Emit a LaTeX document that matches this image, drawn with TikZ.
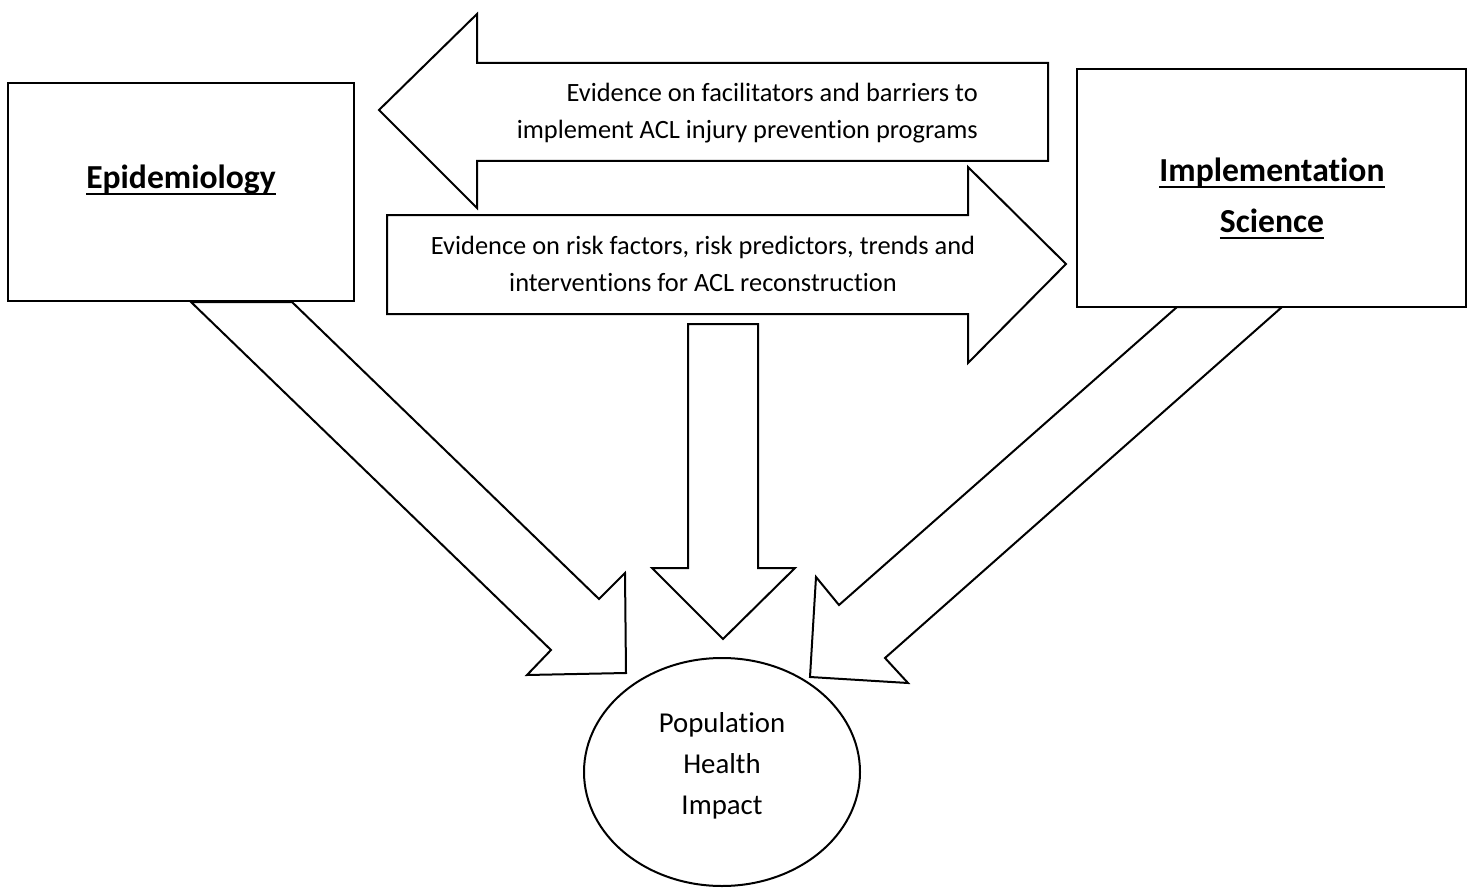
\documentclass[tikz,border=0pt]{standalone}
\usepackage{fontspec}
\setmainfont{Carlito}[Ligatures=NoCommon]
\usetikzlibrary{shapes.geometric,positioning}

% underline at a fixed depth, as a word processor does
\newcommand{\wordline}[1]{\leavevmode\setbox0\hbox{#1}\rlap{\rule[-6pt]{\wd0}{2.3pt}}\box0}

\begin{document}
\begin{tikzpicture}[
        x=1pt, y=-1pt,
        field/.style={rectangle, draw, line width=2.2pt, fill=white, inner sep=0pt},
        heading/.style={font=\fontsize{33.6}{48}\selectfont\bfseries, inner sep=0pt},
        evidence/.style={font=\fontsize{26.4}{37}\selectfont, inner sep=0pt},
        impact/.style={ellipse, draw, line width=2pt, inner sep=0pt, minimum width=276pt, minimum height=228pt},
        blockarrow/.style={draw, line width=2pt, fill=white, line join=miter}
    ]
        \useasboundingbox (0,0) rectangle (1473,888);

        % Evidence arrows between the two fields
        \draw[blockarrow] (379,110) -- (477,14) -- (477,63) -- (1048,63) -- (1048,161) -- (477,161) -- (477,208) -- cycle;
        \draw[blockarrow] (387,215) -- (968,215) -- (968,167) -- (1066,264) -- (968,363) -- (968,314) -- (387,314) -- cycle;

        % Arrows towards the impact
        \draw[blockarrow] (688,324) -- (758,324) -- (758,568) -- (795,568) -- (723,639) -- (652,568) -- (688,568) -- cycle;
        \draw[blockarrow] (191,302) -- (551,650) -- (527,675) -- (626,673) -- (625,573) -- (599,599) -- (292,302) -- cycle;
        \draw[blockarrow] (1177,307) -- (839,605) -- (816,577) -- (810,677) -- (908,683) -- (885,658) -- (1282,307) -- cycle;

        % Fields
        \node[field, minimum width=346pt, minimum height=218pt] (epi) at (181,192) {};
        \node[field, minimum width=389pt, minimum height=238pt] (impl) at (1271.5,188) {};
        \node[heading, anchor=base] (epititle) at (181,189) {\wordline{Epidemiology}};
        \node[heading, anchor=base] (impltitle) at (1272,182) {\wordline{Implementation}};
        \node[heading, anchor=base] (scititle) at (1272,233) {\wordline{Science}};

        % Arrow texts
        \node[evidence, align=right, anchor=east] (barriers) at (978,113) {Evidence on facilitators and barriers to\\implement ACL injury prevention programs};
        \node[evidence, align=center] (riskfactors) at (703,264) {Evidence on risk factors, risk predictors, trends and\\interventions for ACL reconstruction};

        % Population health
        \node[impact] (health) at (722,772) {};
        \node[font=\fontsize{28.8}{41}\selectfont, align=center, inner sep=0pt] (healthtext) at (722,766) {Population\\Health\\Impact};
    \end{tikzpicture}
\end{document}
